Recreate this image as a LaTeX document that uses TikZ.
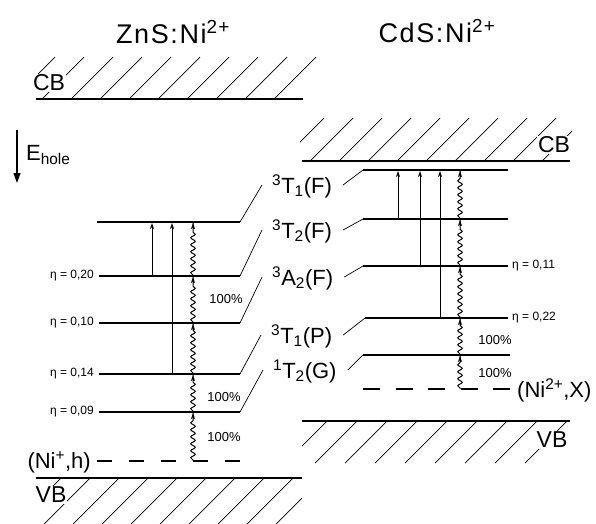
\documentclass[tikz,border=0pt]{standalone}
\usepackage{fontspec}
\setmainfont{Liberation Sans}
\usetikzlibrary{arrows.meta,decorations.pathmorphing,calc}
\newcommand\wavyseg[3]{%
  \draw[wavy] (#1,0 |- #2) -- (#1,0 |- #3);
  \draw[wtip] ($(#1,0 |- #3)+(0,7)$) -- (#1,0 |- #3);}
\begin{document}
\begin{tikzpicture}[x=1pt,y=-1pt,
  lvl/.style={line width=2.6pt},
  lvlthin/.style={line width=2pt},
  dlvlz/.style={line width=2.2pt,dash pattern=on 15pt off 17pt},
  dlvlc/.style={line width=2.2pt,dash pattern=on 17pt off 15.5pt},
  band/.style={line width=1.8pt},
  hatch/.style={line width=0.7pt},
  lead/.style={line width=0.7pt},
  absarr/.style={line width=0.8pt,shorten >=1pt,-{Stealth[length=6pt,width=4pt]}},
  wavy/.style={line width=1pt,decorate,decoration={snake,segment length=7pt,amplitude=2.2pt,pre length=1pt,post length=7pt}},
  wtip/.style={line width=1pt,shorten >=1pt,-{Stealth[length=6pt,width=4pt]}},
  lbl/.style={font=\fontsize{22}{24}\selectfont,inner sep=0pt},
  eta/.style={font=\fontsize{12}{13}\selectfont,inner sep=0pt},
  pct/.style={font=\fontsize{13}{14}\selectfont,inner sep=0pt},
  ttl/.style={font=\fontsize{27}{30}\selectfont\addfontfeature{LetterSpace=6},inner sep=0pt},
  bandlbl/.style={font=\fontsize{23}{24}\selectfont,fill=white,inner sep=1pt},
]
\useasboundingbox (0,0) rectangle (596,523);

% ---------- titles
\node[ttl,anchor=base] (tZ) at (173,43) {ZnS:Ni\textsuperscript{2+}};
\node[ttl,anchor=base] (tC) at (437,42) {CdS:Ni\textsuperscript{2+}};

% ---------- bands
\begin{scope}
  \clip (36,50) rectangle (320,99);
  \foreach \x in {13,42,...,275} \draw[hatch] (\x,99) -- ++(42,-42);
\end{scope}
\coordinate (zCBl) at (36,99); \coordinate (zCBr) at (303,99);
\draw[band] (zCBl) -- (zCBr);
\node[bandlbl] (zCB) at (49,83) {CB};

\begin{scope}
  \clip (300,110) rectangle (572,161);
  \foreach \x in {281,310,...,542} \draw[hatch] (\x,161) -- ++(43,-43);
\end{scope}
\coordinate (cCBl) at (302,161); \coordinate (cCBr) at (570,161);
\draw[band] (cCBl) -- (cCBr);
\node[bandlbl] (cCB) at (554,145) {CB};

\begin{scope}
  \clip (36,478) rectangle (302,530);
  \foreach \x in {61,90,...,323} \draw[hatch] (\x,478) -- ++(-46,46);
\end{scope}
\coordinate (zVBl) at (36,478); \coordinate (zVBr) at (302,478);
\draw[band] (zVBl) -- (zVBr);
\node[bandlbl] (zVB) at (51,495) {VB};

\begin{scope}
  \clip (302,421) rectangle (572,463);
  \foreach \x in {327,357,...,567} \draw[hatch] (\x,421) -- ++(-42,42);
\end{scope}
\coordinate (cVBl) at (302,421); \coordinate (cVBr) at (570,421);
\draw[band] (cVBl) -- (cVBr);
\node[bandlbl] (cVB) at (552,440) {VB};

% ---------- E_hole
\coordinate (eT) at (17,130); \coordinate (eB) at (17,183);
\draw[line width=1.2pt,-{Triangle[length=10pt,width=7pt]}] (eT) -- (eB);
\node[lbl,anchor=base west] (eh) at (26,160) {E\textsubscript{hole}};

% ---------- ZnS levels
\coordinate (zA) at (97,222); \coordinate (zAe) at (240,222);
\coordinate (zB) at (99,276); \coordinate (zBe) at (240,276);
\coordinate (zC) at (99,323); \coordinate (zCe) at (240,323);
\coordinate (zD) at (99,374); \coordinate (zDe) at (240,374);
\coordinate (zE) at (99,412); \coordinate (zEe) at (240,412);
\coordinate (zF) at (97,461); \coordinate (zFe) at (240,461);
\draw[lvl] (zA) -- (zAe);
\draw[lvl] (zB) -- (zBe);
\draw[lvlthin] (zC) -- (zCe);
\draw[lvlthin] (zD) -- (zDe);
\draw[lvl] (zE) -- (zEe);
\draw[dlvlz] (zF) -- (zFe);

\node[eta,anchor=east] (ez1) at (94,276) {η = 0,20};
\node[eta,anchor=east] (ez2) at (94,323) {η = 0,10};
\node[eta,anchor=east] (ez3) at (94,374) {η = 0,14};
\node[eta,anchor=east] (ez4) at (94,412) {η = 0,09};
\node[lbl,anchor=base east] (nih) at (91,468) {(Ni\textsuperscript{+},h)};

\draw[absarr] (152,0 |- zB) -- (152,0 |- zA);
\draw[absarr] (172,0 |- zD) -- (172,0 |- zA);
\wavyseg{193}{zF}{zE}
\wavyseg{193}{zE}{zD}
\wavyseg{193}{zD}{zC}
\wavyseg{193}{zC}{zB}
\wavyseg{193}{zB}{zA}

\node[pct] (pz1) at (226,299) {100\%};
\node[pct] (pz2) at (224,397) {100\%};
\node[pct] (pz3) at (224,437) {100\%};

% ---------- level labels
\node[lbl,anchor=base west] (lA) at (272,193) {\textsuperscript{3}T\textsubscript{1}(F)};
\node[lbl,anchor=base west] (lB) at (272,238) {\textsuperscript{3}T\textsubscript{2}(F)};
\node[lbl,anchor=base west] (lC) at (272,285) {\textsuperscript{3}A\textsubscript{2}(F)};
\node[lbl,anchor=base west] (lD) at (271,343) {\textsuperscript{3}T\textsubscript{1}(P)};
\node[lbl,anchor=base west] (lE) at (273,378) {\textsuperscript{1}T\textsubscript{2}(G)};

% ---------- CdS levels
\coordinate (cA) at (363,170); \coordinate (cAe) at (508,170);
\coordinate (cB) at (363,219); \coordinate (cBe) at (508,219);
\coordinate (cC) at (363,266); \coordinate (cCe) at (508,266);
\coordinate (cD) at (365,318); \coordinate (cDe) at (508,318);
\coordinate (cE) at (363,355); \coordinate (cEe) at (510,355);
\coordinate (cF) at (363,389); \coordinate (cFe) at (510,389);
\draw[lvl] (cA) -- (cAe);
\draw[lvl] (cB) -- (cBe);
\draw[lvl] (cC) -- (cCe);
\draw[lvlthin] (cD) -- (cDe);
\draw[lvlthin] (cE) -- (cEe);
\draw[dlvlc] (cF) -- (cFe);

\node[eta,anchor=west] (ec1) at (512,266) {η = 0,11};
\node[eta,anchor=west] (ec2) at (512,318) {η = 0,22};
\node[lbl,anchor=base west] (nix) at (517,397) {(Ni\textsuperscript{2+},X)};

\draw[absarr] (398,0 |- cB) -- (398,0 |- cA);
\draw[absarr] (420,0 |- cC) -- (420,0 |- cA);
\draw[absarr] (440,0 |- cD) -- (440,0 |- cA);
\wavyseg{460}{cF}{cE}
\wavyseg{460}{cE}{cD}
\wavyseg{460}{cD}{cC}
\wavyseg{460}{cC}{cB}
\wavyseg{460}{cB}{cA}

\node[pct] (pc1) at (495,340) {100\%};
\node[pct] (pc2) at (495,373) {100\%};

% ---------- leads
\foreach \l/\z/\c in {lA/zAe/cA, lB/zBe/cB, lC/zCe/cC, lD/zDe/cD, lE/zEe/cE}{
  \draw[lead] (\z) -- ([shift={(-10,-8)}]\l.base west);
  \draw[lead] ([shift={(11,-8)}]\l.base east) -- (\c);
}
\end{tikzpicture}
\end{document}
